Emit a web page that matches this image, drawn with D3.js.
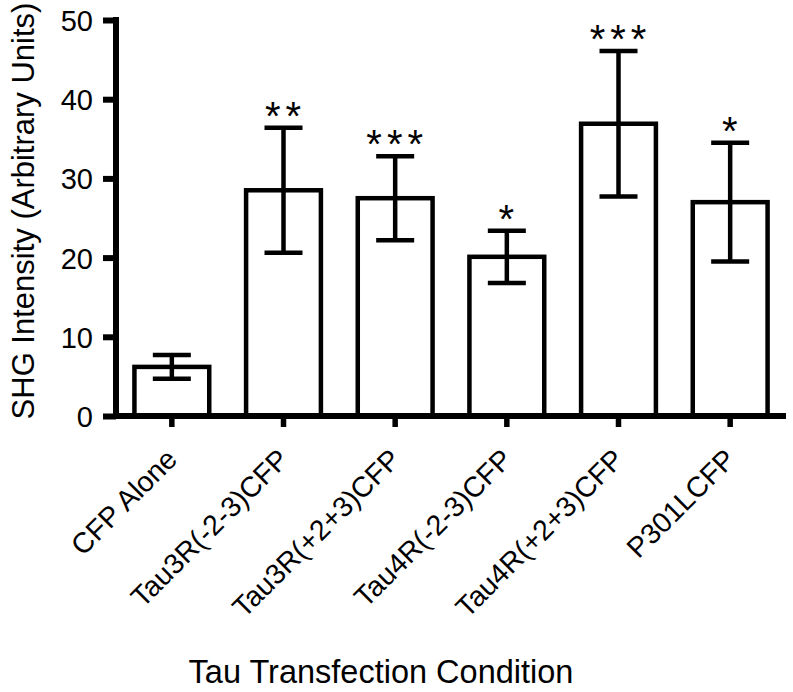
<!DOCTYPE html>
<head>
  <meta charset="utf-8">
  <script src="https://d3js.org/d3.v7.min.js"></script>
  <style>
    body { margin:0; background:white; }
    svg { display:block; }
    text { font-family: Arial, "Liberation Sans", sans-serif; fill: black; }
  </style>
</head>
<body>
  <script>
    // values
    var categories = ["CFP Alone", "Tau3R(-2-3)CFP", "Tau3R(+2+3)CFP", "Tau4R(-2-3)CFP", "Tau4R(+2+3)CFP", "P301LCFP"];
    var means = [6.2, 28.5, 27.5, 20.1, 36.9, 27.0];
    var sems = [1.5, 7.9, 5.3, 3.3, 9.2, 7.5];
    var stars = ["", "**", "***", "*", "***", "*"];
    var yTicks = [0, 10, 20, 30, 40, 50];

    var width = 793, height = 692;
    var x0 = 116, x1 = 786, yBase = 416, yTop = 20;

    var svg = d3.select("body").append("svg")
        .attr("width", width)
        .attr("height", height);

    var x = d3.scaleBand()
        .domain(categories)
        .range([x0, x1])
        .paddingInner(0.33)
        .paddingOuter(0.165);

    var y = d3.scaleLinear()
        .domain([0, 50])
        .range([yBase, yTop]);

    // bars
    svg.selectAll("rect.bar")
      .data(categories)
      .enter().append("rect")
        .attr("class", "bar")
        .attr("x", function(d) { return x(d); })
        .attr("y", function(d, i) { return y(means[i]); })
        .attr("width", x.bandwidth())
        .attr("height", function(d, i) { return y(0) - y(means[i]); })
        .attr("fill", "white")
        .attr("stroke", "black")
        .attr("stroke-width", 4.5);

    // error bars
    var capW = 38;
    var eb = svg.selectAll("g.err")
      .data(categories)
      .enter().append("g")
        .attr("class", "err")
        .attr("stroke", "black")
        .attr("stroke-width", 4.5);
    eb.append("line")
        .attr("x1", function(d) { return x(d) + x.bandwidth() / 2; })
        .attr("x2", function(d) { return x(d) + x.bandwidth() / 2; })
        .attr("y1", function(d, i) { return y(means[i] - sems[i]); })
        .attr("y2", function(d, i) { return y(means[i] + sems[i]); });
    eb.append("line")
        .attr("x1", function(d) { return x(d) + x.bandwidth() / 2 - capW / 2; })
        .attr("x2", function(d) { return x(d) + x.bandwidth() / 2 + capW / 2; })
        .attr("y1", function(d, i) { return y(means[i] + sems[i]); })
        .attr("y2", function(d, i) { return y(means[i] + sems[i]); });
    eb.append("line")
        .attr("x1", function(d) { return x(d) + x.bandwidth() / 2 - capW / 2; })
        .attr("x2", function(d) { return x(d) + x.bandwidth() / 2 + capW / 2; })
        .attr("y1", function(d, i) { return y(means[i] - sems[i]); })
        .attr("y2", function(d, i) { return y(means[i] - sems[i]); });

    // significance stars
    svg.selectAll("text.star")
      .data(categories)
      .enter().append("text")
        .attr("class", "star")
        .attr("x", function(d) { return x(d) + x.bandwidth() / 2 + 2; })
        .attr("y", function(d, i) { return y(means[i] + sems[i]) + 2; })
        .attr("text-anchor", "middle")
        .attr("font-size", 40)
        .attr("letter-spacing", 5)
        .text(function(d, i) { return stars[i]; });

    // y axis
    var yAxis = d3.axisLeft(y)
        .tickValues(yTicks)
        .tickSize(13)
        .tickPadding(10)
        .tickFormat(d3.format("d"));
    var gy = svg.append("g")
        .attr("transform", "translate(" + x0 + ",0)")
        .call(yAxis);
    gy.select(".domain").remove();
    gy.append("line")
        .attr("x1", 0).attr("x2", 0)
        .attr("y1", yTop - 3).attr("y2", yBase + 3)
        .attr("stroke", "black").attr("stroke-width", 6);
    gy.selectAll(".tick line").attr("stroke", "black").attr("stroke-width", 6);
    gy.selectAll(".tick text")
        .attr("font-size", 29)
        .attr("font-family", "Arial, 'Liberation Sans', sans-serif")
        .attr("dy", "0.36em");

    // x axis
    var xAxis = d3.axisBottom(x)
        .tickSize(11)
        .tickPadding(0);
    var gx = svg.append("g")
        .attr("transform", "translate(0," + yBase + ")")
        .call(xAxis);
    gx.select(".domain").remove();
    gx.append("line")
        .attr("x1", x0 - 3).attr("x2", x1)
        .attr("y1", 0).attr("y2", 0)
        .attr("stroke", "black").attr("stroke-width", 6);
    gx.selectAll(".tick line").attr("stroke", "black").attr("stroke-width", 5.5);
    gx.selectAll(".tick text")
        .attr("font-size", 28.5)
        .attr("font-family", "Arial, 'Liberation Sans', sans-serif")
        .attr("text-anchor", "end")
        .attr("dy", 0)
        .attr("y", 0)
        .attr("transform", "translate(7,45) rotate(-45)");

    // axis titles
    svg.append("text")
        .attr("x", (x0 + x1) / 2 - 70)
        .attr("y", 683)
        .attr("text-anchor", "middle")
        .attr("font-size", 32.5)
        .text("Tau Transfection Condition");

    svg.append("text")
        .attr("transform", "translate(34,211) rotate(-90)")
        .attr("text-anchor", "middle")
        .attr("font-size", 31)
        .text("SHG Intensity (Arbitrary Units)");
  </script>
</body>
